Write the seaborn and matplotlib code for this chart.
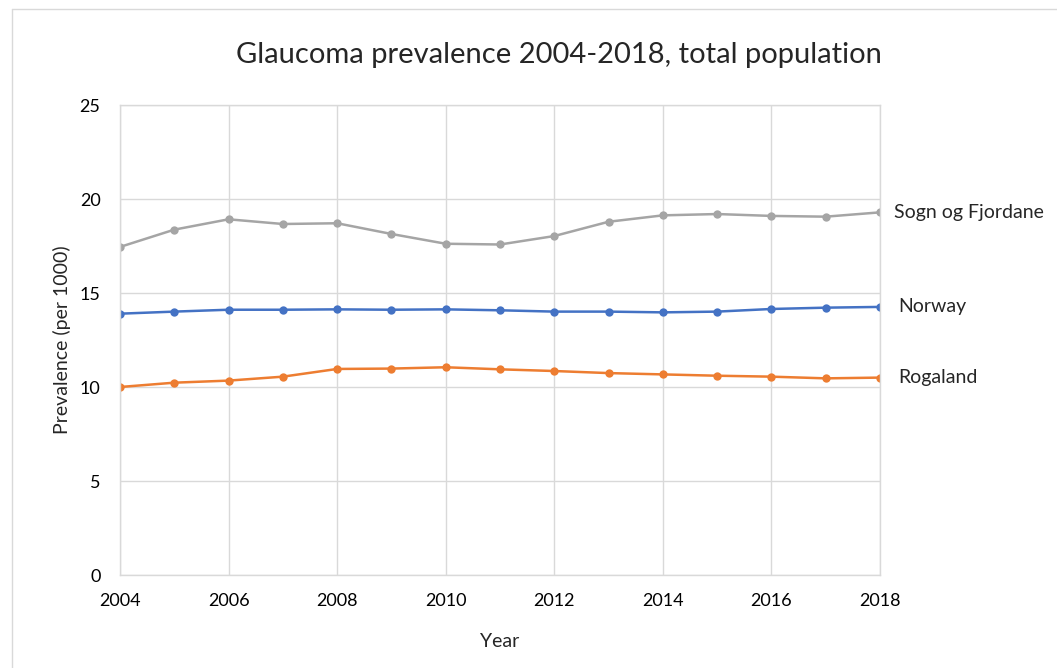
import matplotlib
matplotlib.use("Agg")
import matplotlib.pyplot as plt
import seaborn as sns
import pandas as pd
from matplotlib.lines import Line2D

years = list(range(2004, 2019))
sogn = [17.45, 18.37, 18.92, 18.67, 18.71, 18.14, 17.62, 17.58, 18.03, 18.79, 19.13, 19.20, 19.10, 19.06, 19.29]
norway = [13.90, 14.01, 14.11, 14.11, 14.13, 14.11, 14.13, 14.08, 14.01, 14.01, 13.97, 14.01, 14.15, 14.22, 14.26]
rogaland = [10.00, 10.23, 10.34, 10.55, 10.96, 10.98, 11.05, 10.94, 10.85, 10.74, 10.67, 10.60, 10.55, 10.46, 10.50]
series_names = ["Sogn og Fjordane", "Norway", "Rogaland"]
colors = {"Sogn og Fjordane": "#A5A5A5", "Norway": "#4472C4", "Rogaland": "#ED7D31"}

df = pd.concat([
    pd.DataFrame({"Year": years, "Prevalence": vals, "Region": name})
    for name, vals in zip(series_names, [sogn, norway, rogaland])
])

sns.set_theme(style="whitegrid")
plt.rcParams['font.family'] = ['Lato', 'DejaVu Sans']

fig = plt.figure(figsize=(10.57, 6.68), dpi=100)
ax = fig.add_axes([120/1057, 1-575/668, 760/1057, 470/668])

sns.lineplot(data=df, x="Year", y="Prevalence", hue="Region", palette=colors,
             marker="o", markersize=6, markeredgewidth=0, linewidth=1.8,
             legend=False, ax=ax)

ax.set_xlim(2004, 2018)
ax.set_ylim(0, 25)
ax.set_xticks(list(range(2004, 2019, 2)))
ax.set_yticks([0, 5, 10, 15, 20, 25])
ax.grid(True, color="#D9D9D9", linewidth=1)
for s in ax.spines.values():
    s.set_color("#D9D9D9")
    s.set_linewidth(1)
ax.tick_params(axis="both", labelsize=13, length=0, colors="black")
ax.tick_params(axis="x", pad=13)
ax.tick_params(axis="y", pad=14)
ax.set_xlabel("Year", fontsize=14, labelpad=17)
ax.set_ylabel("Prevalence (per 1000)", fontsize=14, labelpad=6)
fig.text(559/1057, 1-55/668, "Glaucoma prevalence 2004-2018, total population",
         fontsize=21, ha="center", va="center")

for name, vals in zip(series_names, [sogn, norway, rogaland]):
    ax.annotate(name, xy=(years[-1], vals[-1]), xytext=(10 if name == "Sogn og Fjordane" else 13, 0),
                textcoords="offset points", fontsize=14, va="center", ha="left")

fig.add_artist(Line2D([12/1057, 12/1057], [0, 1-9/668], color="#D9D9D9", linewidth=1))
fig.add_artist(Line2D([12/1057, 1], [1-9/668, 1-9/668], color="#D9D9D9", linewidth=1))

fig.savefig("out.png", dpi=100)
